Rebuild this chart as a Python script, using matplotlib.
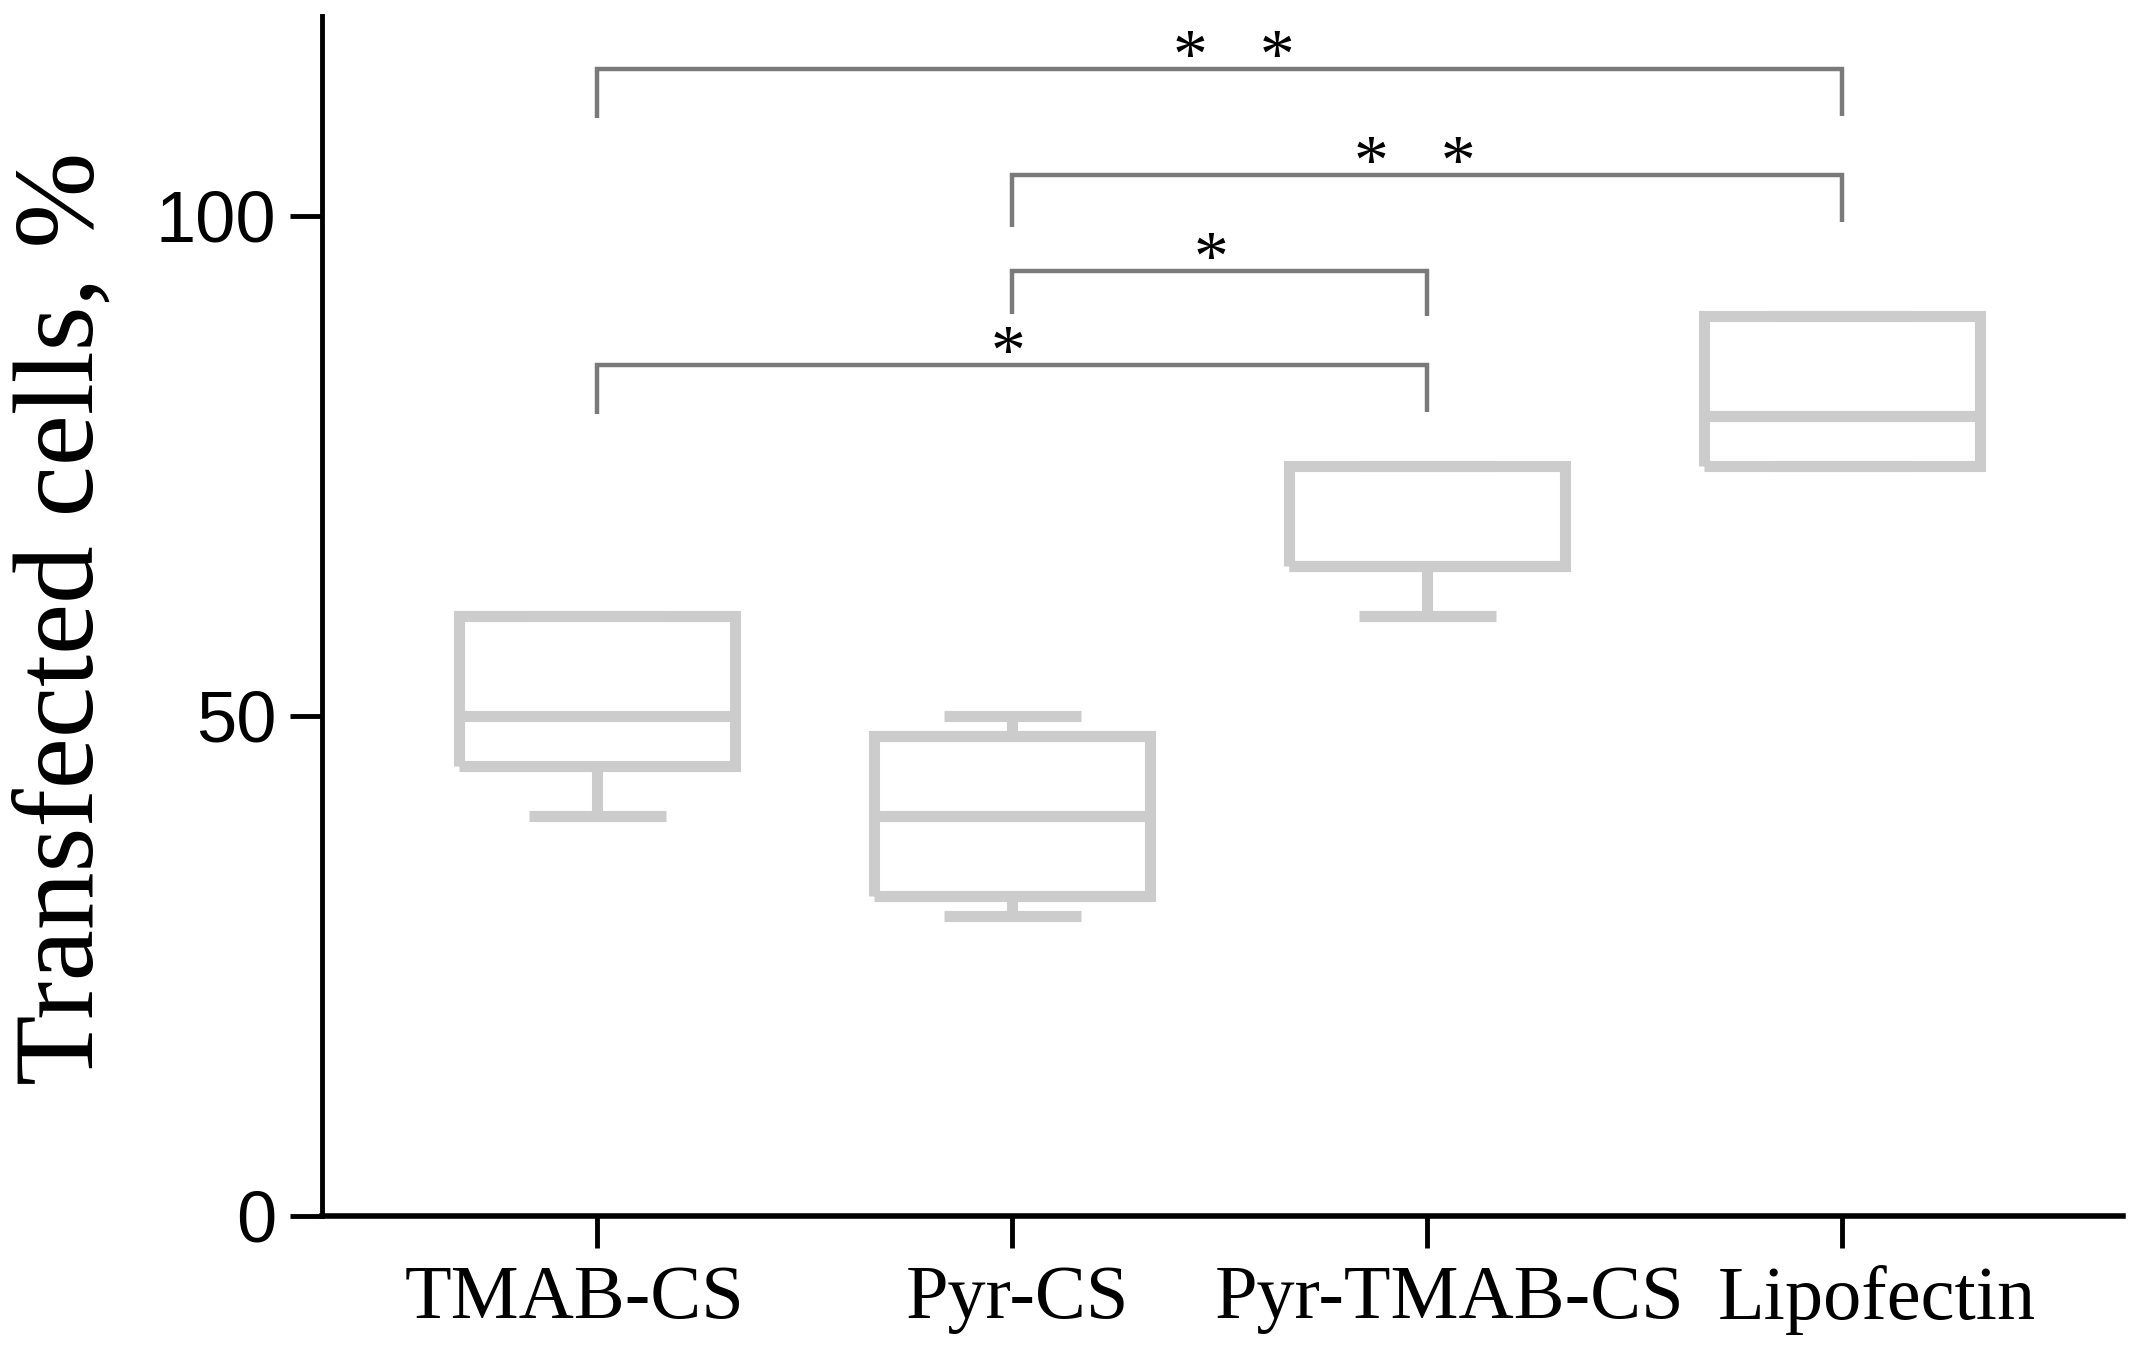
import matplotlib
matplotlib.use("Agg")
import matplotlib.pyplot as plt
from matplotlib.transforms import ScaledTranslation

categories = ["TMAB-CS", "Pyr-CS", "Pyr-TMAB-CS", "Lipofectin"]
q1_vals = [45, 32, 65, 75]
med_vals = [50, 40, 65, 80]
q3_vals = [60, 48, 75, 90]
whislo_vals = [40, 30, 60, 75]
whishi_vals = [60, 50, 75, 90]

# significance brackets: (left group, right group, bar height, left drop, right drop, label)
br_left = [0, 1, 1, 0]
br_right = [3, 3, 2, 2]
br_height = [114.7, 104.1, 94.5, 85.1]
br_left_end = [109.8, 98.9, 90.2, 80.2]
br_right_end = [110.0, 99.4, 90.0, 80.4]
br_labels = ["*   *", "*   *", "*", "*"]

yticks = [0, 50, 100]

# small horizontal nudges (points) reproducing the original's manual placement
xlabel_nudge = [-16, 4, 16, 25]
star_nudge = [10, -9, -6, -3]

fig = plt.figure(figsize=(21.41, 13.52), dpi=100)
ax = fig.add_axes([0.1504, 0.1006, 0.9916 - 0.1504, 0.9885 - 0.1006])

stats = []
for i, name in enumerate(categories):
    stats.append(dict(label=name, q1=q1_vals[i], med=med_vals[i], q3=q3_vals[i],
                      whislo=whislo_vals[i], whishi=whishi_vals[i], fliers=[]))

box_color = "#cccccc"
lw = 8
line_kw = dict(color=box_color, linewidth=lw, solid_joinstyle="miter", solid_capstyle="butt")
positions = list(range(len(categories)))
ax.bxp(stats, positions=positions, widths=0.665, capwidths=0.33, showfliers=False,
       boxprops=dict(line_kw), whiskerprops=dict(line_kw), capprops=dict(line_kw),
       medianprops=dict(line_kw), manage_ticks=False)

br_color = "#7a7a7a"
for k, (l, r, h, le, re, lab) in enumerate(zip(br_left, br_right, br_height,
                                                br_left_end, br_right_end, br_labels)):
    ax.plot([positions[l], positions[l], positions[r], positions[r]], [le, h, h, re],
            color=br_color, linewidth=3.2, solid_joinstyle="miter", solid_capstyle="butt",
            zorder=3)
    ax.annotate(lab, xy=((positions[l] + positions[r]) / 2, h - 0.8),
                xytext=(star_nudge[k], 0), textcoords="offset points",
                ha="center", va="baseline",
                fontsize=50, family=["Liberation Serif", "DejaVu Serif"], color="black")

ax.set_xlim(-0.663, 3.677)
ax.set_ylim(0, 120)
ax.set_xticks(positions)
ax.set_xticklabels(categories, family=["Liberation Serif", "DejaVu Serif"], fontsize=55)
ax.set_yticks(yticks)
ax.set_yticklabels([str(v) for v in yticks], family=["Liberation Sans", "DejaVu Sans"], fontsize=52)

for s in ["top", "right"]:
    ax.spines[s].set_visible(False)
ax.spines["left"].set_linewidth(3.5)
ax.spines["bottom"].set_linewidth(4)
ax.tick_params(axis="y", direction="out", length=23, width=3.5, pad=10, color="black")
ax.tick_params(axis="x", direction="out", length=23, width=3.5, pad=12, color="black")

for lbl, dx in zip(ax.get_xticklabels(), xlabel_nudge):
    lbl.set_transform(lbl.get_transform() + ScaledTranslation(dx / 72, 0, fig.dpi_scale_trans))

fig.text(0.006, 0.543, "Transfected cells, %", rotation=90, ha="left", va="center",
         fontsize=83, family=["Liberation Serif", "DejaVu Serif"])

fig.savefig("out.png", dpi=100, facecolor="white")
